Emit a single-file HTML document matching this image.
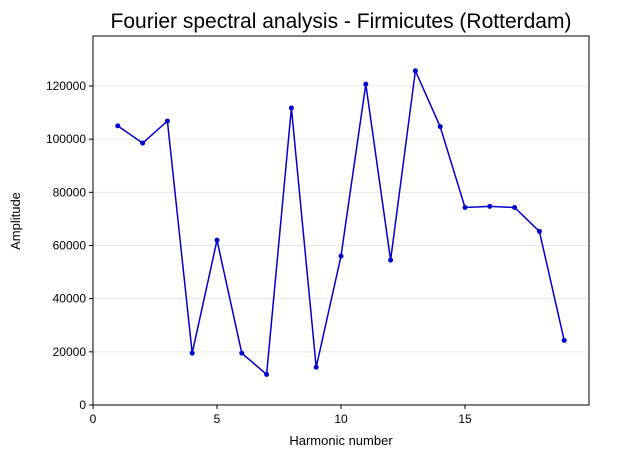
<!DOCTYPE html>
<html><head><meta charset="utf-8"><style>
body{margin:0;background:#fff;width:642px;height:459px;overflow:hidden}
svg{font-family:"Liberation Sans","DejaVu Sans",sans-serif}
</style></head><body>
<svg id="chart" width="642" height="459" viewBox="0 0 642 459" xmlns="http://www.w3.org/2000/svg">
<text x="341" y="28" font-size="21" text-anchor="middle" fill="#000">Fourier spectral analysis - Firmicutes (Rotterdam)</text>
<g id="grid"></g>
<g id="axes"></g>
<g id="series"></g>
<rect x="93" y="36" width="496" height="369" fill="none" stroke="#000" stroke-width="1"/>
<text x="341" y="445" font-size="13" text-anchor="middle">Harmonic number</text>
<text transform="translate(20,221) rotate(-90)" font-size="13" text-anchor="middle">Amplitude</text>
</svg>
<script>
const harmonics=[1,2,3,4,5,6,7,8,9,10,11,12,13,14,15,16,17,18,19];
const amplitudes=[105000,98500,106800,19500,62000,19500,11500,111700,14200,56000,120700,54500,125700,104700,74300,74700,74300,65300,24300];
const xTicks=[0,5,10,15];
const yTicks=[0,20000,40000,60000,80000,100000,120000];
const X0=93,X1=589,Y0=405,Y1=36,XMAX=20,YMAX=138800;
const sx=v=>X0+(X1-X0)*v/XMAX, sy=v=>Y0-(Y0-Y1)*v/YMAX;
const NS='http://www.w3.org/2000/svg';
const mk=(t,a,p)=>{const e=document.createElementNS(NS,t);for(const k in a)e.setAttribute(k,a[k]);p.appendChild(e);return e;};
const grid=document.getElementById('grid'),axes=document.getElementById('axes'),series=document.getElementById('series');
yTicks.forEach(v=>{
 const g=mk('line',{x1:X0,x2:X1,y1:sy(v),y2:sy(v),stroke:'#e6e6e6','stroke-width':1},grid);
 
 
 const t=mk('line',{x1:X0-4,x2:X0,y1:sy(v),y2:sy(v),stroke:'#000'},axes);
 
 
 const l=mk('text',{x:X0-7,y:sy(v)+4,'font-size':12,'text-anchor':'end'},axes);
 l.textContent=v;
 
 
});
xTicks.forEach(v=>{
 const t=mk('line',{x1:sx(v),x2:sx(v),y1:Y0,y2:Y0+4,stroke:'#000'},axes);
 
 
 const l=mk('text',{x:sx(v),y:Y0+18,'font-size':12,'text-anchor':'middle'},axes);
 l.textContent=v;
 
 
});
const line=mk('polyline',{points:harmonics.map((h,i)=>sx(h)+','+sy(amplitudes[i])).join(' '),fill:'none',stroke:'#0000cd','stroke-width':1.5},series);


harmonics.forEach((h,i)=>{
 const c=mk('circle',{cx:sx(h),cy:sy(amplitudes[i]),r:2.5,fill:'#0000cd'},series);
 
 
});
</script>
</body></html>
